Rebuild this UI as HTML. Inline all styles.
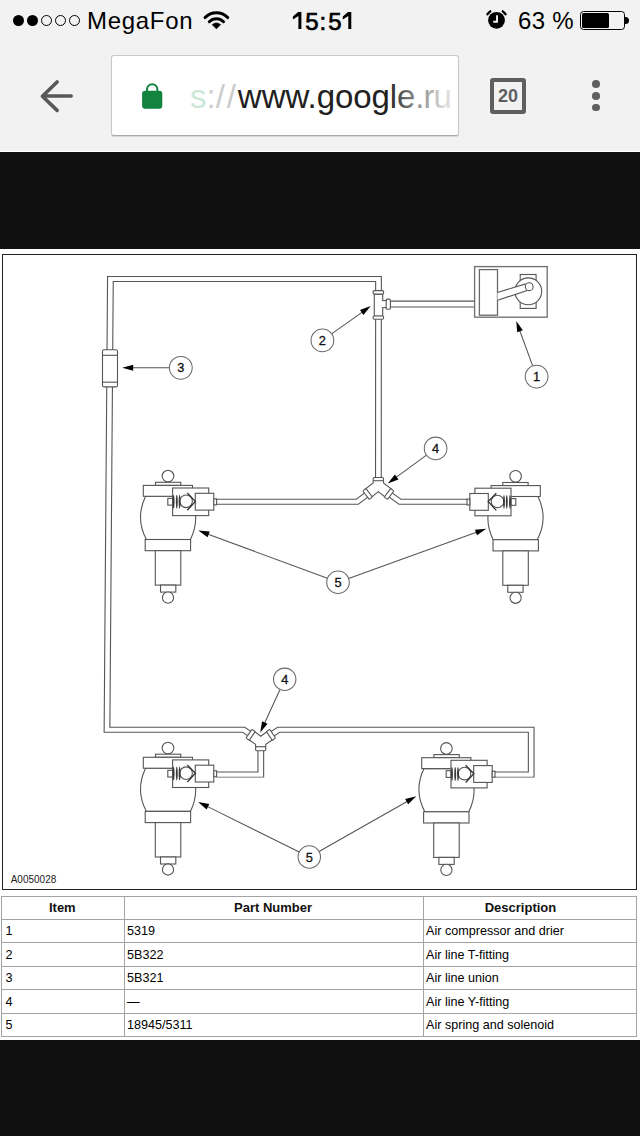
<!DOCTYPE html>
<html><head><meta charset="utf-8">
<style>
html,body{margin:0;padding:0;}
body{width:640px;height:1136px;position:relative;overflow:hidden;background:#f2f2f2;font-family:"Liberation Sans",sans-serif;}
.abs{position:absolute;}
#dark1{left:0;top:152px;width:640px;height:97.4px;background:#101010;}
#white{left:0;top:249.4px;width:640px;height:790.6px;background:#fff;}
#dark2{left:0;top:1040px;width:640px;height:96px;background:#101010;}
#wline{left:0;top:150.5px;width:640px;height:1.5px;background:#fff;}
.st{font-size:24px;color:#000;top:6px;line-height:30px;white-space:nowrap;}
.tm{-webkit-text-stroke:0.7px #000;}
.dot{top:14.7px;width:11.3px;height:11.3px;border-radius:50%;box-sizing:border-box;}
.dot.o{border:1.1px solid #000;}
.mdot{left:592.2px;width:7.6px;height:7.6px;border-radius:50%;background:#5f5f5f;}
#url{left:111.3px;top:55.2px;width:347.4px;height:81px;background:#fff;border:1px solid #c8c8c8;border-bottom-color:#a8a8a8;border-radius:3px;box-sizing:border-box;box-shadow:0 1px 1px rgba(0,0,0,0.12);}
#urltext{left:190px;top:77.5px;font-size:33px;line-height:38px;white-space:nowrap;color:#212121;}
.hl{left:1px;width:635px;height:1px;background:#a3a3a3;}
.vl{top:895.5px;width:1px;height:141px;background:#a3a3a3;}
.th{top:899.8px;width:200px;text-align:center;font-size:13px;font-weight:bold;color:#111;line-height:15px;white-space:nowrap;}
.td{font-size:12.6px;color:#000;line-height:15px;margin-top:0.8px;white-space:nowrap;}
</style></head><body>
<!-- status bar -->
<div class="abs dot" style="left:12.8px;background:#000;"></div>
<div class="abs dot" style="left:26.8px;background:#000;"></div>
<div class="abs dot o" style="left:40.9px;"></div>
<div class="abs dot o" style="left:54.9px;"></div>
<div class="abs dot o" style="left:68.9px;"></div>
<div class="abs st" style="left:87px;letter-spacing:0.7px;">MegaFon</div>
<svg class="abs" style="left:200px;top:5px" width="34" height="28" viewBox="200 5 34 28">
<path d="M205.09 17.49 A16 16 0 0 1 227.71 17.49" stroke="#000" stroke-width="3.1" fill="none" stroke-linecap="round"/>
<path d="M209.33 21.73 A10 10 0 0 1 223.47 21.73" stroke="#000" stroke-width="3.1" fill="none" stroke-linecap="round"/>
<path d="M216.4 28.8 L212.3 24.7 A5.8 5.8 0 0 1 220.5 24.7 Z" fill="#000" stroke="#000" stroke-width="0.8" stroke-linejoin="round"/>
</svg>
<svg class="abs" style="left:285px;top:5px" width="75" height="30" viewBox="285 5 75 30"><path d="M298.1 12 H301.4 V29 H298.4 V16 L292.9 19.6 V16.5 Z M348 12 H351.3 V29 H348.3 V16 L342.8 19.6 V16.5 Z" fill="#000"/></svg><div class="abs st tm" style="left:305.3px;top:6.5px;">5</div><div class="abs st tm" style="left:319.5px;top:6.5px;">:</div><div class="abs st tm" style="left:328.3px;top:6.5px;">5</div>
<svg class="abs" style="left:480px;top:5px" width="32" height="30" viewBox="480 5 32 30">
<circle cx="496.5" cy="20.3" r="8.4" fill="#000"/>
<path d="M497 15.3 V21.8 H493.2" stroke="#f2f2f2" stroke-width="1.9" fill="none"/>
<path d="M487.46 14.2 A10.9 10.9 0 0 1 490.25 11.37" stroke="#000" stroke-width="2.4" fill="none" stroke-linecap="round"/>
<path d="M505.54 14.2 A10.9 10.9 0 0 0 502.75 11.37" stroke="#000" stroke-width="2.4" fill="none" stroke-linecap="round"/>
</svg>
<div class="abs st" style="left:518px;letter-spacing:0.3px;">63 %</div>
<div class="abs" style="left:580.2px;top:11.1px;width:44.7px;height:18.7px;box-sizing:border-box;border:1.4px solid #000;border-radius:3.5px;"></div>
<div class="abs" style="left:582px;top:13px;width:27.2px;height:15px;background:#000;border-radius:1.6px;"></div>
<div class="abs" style="left:624.9px;top:16.7px;width:4.3px;height:7px;background:#000;border-radius:0 3.5px 3.5px 0;"></div>
<!-- toolbar -->
<svg class="abs" style="left:36px;top:76px" width="42" height="40" viewBox="36 76 42 40">
<path d="M71.2 96 H43 M57.1 82 L42.4 96.2 L57.1 110.4" stroke="#585858" stroke-width="3.6" fill="none" stroke-linecap="round" stroke-linejoin="round"/>
</svg>
<div id="url" class="abs"></div>
<svg class="abs" style="left:138px;top:78px" width="28" height="34" viewBox="138 78 28 34">
<path d="M147.05 92 V89.3 A5.15 5.15 0 0 1 157.35 89.3 V92" stroke="#12843f" stroke-width="2" fill="none"/>
<rect x="142.1" y="90.8" width="20.2" height="18" rx="3" fill="#12843f"/>
</svg>
<div id="urltext" class="abs"><span style="color:#cde8d8">s</span><span style="color:#cfcfcf">:</span><span style="color:#cbcbcb;letter-spacing:1.9px">//</span>www.<span style="letter-spacing:-0.1px">google</span><span style="letter-spacing:-0.9px">.ru</span></div>
<div class="abs" style="left:388px;top:60px;width:68px;height:70px;background:linear-gradient(90deg,rgba(255,255,255,0),rgba(255,255,255,0.3) 25%,rgba(255,255,255,0.5) 43%,rgba(255,255,255,0.6) 59%,rgba(255,255,255,0.8) 78%,rgba(255,255,255,0.9));"></div>
<div class="abs" style="left:490px;top:78px;width:36px;height:36px;box-sizing:border-box;border:4px solid #5f5f5f;border-radius:3px;"></div>
<div class="abs" style="left:490px;top:86px;width:36px;text-align:center;font-size:18px;font-weight:bold;color:#5f5f5f;line-height:20px;">20</div>
<div class="abs mdot" style="top:80px;"></div>
<div class="abs mdot" style="top:92px;"></div>
<div class="abs mdot" style="top:103.8px;"></div>
<div id="wline" class="abs"></div>
<div id="dark1" class="abs"></div>
<div id="white" class="abs"></div>
<div id="dark2" class="abs"></div>
<!-- diagram border -->
<div class="abs" style="left:2px;top:254px;width:635px;height:635.5px;box-sizing:border-box;border:1.4px solid #222;"></div>
<div class="abs" style="left:10.7px;top:873.5px;font-size:10px;color:#222;">A0050028</div>
<!--DIAGRAM-->
<svg class="abs" style="left:0;top:0" width="640" height="1136" viewBox="0 0 640 1136" font-family="Liberation Sans, sans-serif">
<g transform="scale(1 0.88)">
<path d="M260.8 842.61 L243.8 829.32 L107 829.32 L110.4 317.16 L378.5 317.16 L378.4 552.27" stroke="#555555" stroke-width="6.8" fill="none" stroke-linejoin="miter"/>
<path d="M378.4 552.27 L357.2 570.17 L216.5 570.17" stroke="#555555" stroke-width="6.8" fill="none" stroke-linejoin="miter"/>
<path d="M378.4 552.27 L400 570.17 L467 570.17" stroke="#555555" stroke-width="6.8" fill="none" stroke-linejoin="miter"/>
<path d="M260.8 842.61 L260.8 880.23 L216.5 880.23" stroke="#555555" stroke-width="6.8" fill="none" stroke-linejoin="miter"/>
<path d="M260.8 842.61 L278.6 829.32 L531.2 829.32 L531.2 880.23 L494.3 880.23" stroke="#555555" stroke-width="6.8" fill="none" stroke-linejoin="miter"/>
<path d="M260.8 842.61 L243.8 829.32 L107 829.32 L110.4 317.16 L378.5 317.16 L378.4 552.27" stroke="#fff" stroke-width="4.6" fill="none" stroke-linejoin="miter"/>
<path d="M378.4 552.27 L357.2 570.17 L216.5 570.17" stroke="#fff" stroke-width="4.6" fill="none" stroke-linejoin="miter"/>
<path d="M378.4 552.27 L400 570.17 L467 570.17" stroke="#fff" stroke-width="4.6" fill="none" stroke-linejoin="miter"/>
<path d="M260.8 842.61 L260.8 880.23 L216.5 880.23" stroke="#fff" stroke-width="4.6" fill="none" stroke-linejoin="miter"/>
<path d="M260.8 842.61 L278.6 829.32 L531.2 829.32 L531.2 880.23 L494.3 880.23" stroke="#fff" stroke-width="4.6" fill="none" stroke-linejoin="miter"/>
</g>
<g transform="scale(1 1)">
<path d="M384 304.05 L474.5 304.05" stroke="#555555" stroke-width="6.95" fill="none" stroke-linejoin="miter"/>
<path d="M384 304.05 L474.5 304.05" stroke="#fff" stroke-width="4.75" fill="none" stroke-linejoin="miter"/>
</g>
<path d="M373.2 480.5 L373.2 483 L364.9 489.3 L371.1 497.5 L378.35 491.6 L385.6 497.5 L391.8 489.3 L383.5 483 L383.5 480.5 Z" fill="#fff" stroke="#555555" stroke-width="1.1" stroke-linejoin="miter"/>
<rect x="373.2" y="477.5" width="10.3" height="3.3" rx="1.2" fill="#fff" stroke="#555555" stroke-width="1.1"/>
<rect x="-2" y="-5.3" width="4" height="10.6" rx="1" fill="#fff" stroke="#555555" stroke-width="1.1" transform="translate(367.6 494) rotate(-37)"/>
<rect x="-2" y="-5.3" width="4" height="10.6" rx="1" fill="#fff" stroke="#555555" stroke-width="1.1" transform="translate(389.1 494) rotate(37)"/>
<path d="M255.6 746.8 L255.6 744.4 L248.2 739.3 L253.8 731 L260.8 736.2 L267.8 731 L273.4 739.3 L265.8 744.4 L265.8 746.8 Z" fill="#fff" stroke="#555555" stroke-width="1.1" stroke-linejoin="miter"/>
<rect x="255.6" y="746.8" width="10.2" height="3.9" rx="1.2" fill="#fff" stroke="#555555" stroke-width="1.1"/>
<rect x="-2" y="-5.3" width="4" height="10.6" rx="1" fill="#fff" stroke="#555555" stroke-width="1.1" transform="translate(250.6 734.8) rotate(34)"/>
<rect x="-2" y="-5.3" width="4" height="10.6" rx="1" fill="#fff" stroke="#555555" stroke-width="1.1" transform="translate(271 734.8) rotate(-34)"/>
<rect x="374.3" y="294.1" width="8.4" height="22.1" rx="0" fill="#fff" stroke="#555555" stroke-width="1.1"/>
<rect x="382" y="301.1" width="4.4" height="5.9" fill="#fff"/>
<path d="M382.7 300.5 L386.4 300.5" stroke="#555555" stroke-width="1.1" fill="none"/>
<path d="M382.7 307.6 L386.4 307.6" stroke="#555555" stroke-width="1.1" fill="none"/>
<rect x="373.1" y="290.6" width="10.5" height="3.5" rx="1.2" fill="#fff" stroke="#555555" stroke-width="1.1"/>
<rect x="373.1" y="316" width="10.5" height="3.2" rx="1.2" fill="#fff" stroke="#555555" stroke-width="1.1"/>
<rect x="386.2" y="299.1" width="4.2" height="10.1" rx="1.3" fill="#fff" stroke="#555555" stroke-width="1.1"/>
<rect x="102.5" y="349.7" width="15" height="37.2" rx="1.5" fill="#fff" stroke="#555555" stroke-width="1.1"/>
<path d="M102.5 355.3 L117.5 355.3" stroke="#555555" stroke-width="1.1" fill="none"/>
<path d="M102.5 382.2 L117.5 382.2" stroke="#555555" stroke-width="1.1" fill="none"/>
<rect x="474.6" y="266.6" width="72.6" height="50.6" rx="0" fill="#fff" stroke="#707070" stroke-width="1.35"/>
<rect x="479.4" y="269.6" width="18.1" height="45.6" rx="0" fill="#fff" stroke="#6a6a6a" stroke-width="1.3"/>
<rect x="520.2" y="274.5" width="15.9" height="6.5" rx="0" fill="#fff" stroke="#555555" stroke-width="1.1"/>
<rect x="520.2" y="302" width="15.9" height="6.4" rx="0" fill="#fff" stroke="#555555" stroke-width="1.1"/>
<circle cx="528.3" cy="291.3" r="13.4" fill="#fff" stroke="#555555" stroke-width="1.1"/>
<path d="M497.5 292.5 L525.6 283.9 L528 290.2 L497.5 300.3 Z" stroke="none" fill="#fff"/>
<path d="M497.5 292.5 L525.6 283.9 M497.5 300.3 L528 290.2" stroke="#555555" stroke-width="1.1" fill="none"/>
<circle cx="529.2" cy="286.7" r="3.9" fill="#fff" stroke="#555555" stroke-width="1.1"/>
<path d="M145.6 496.3 Q135 518.1 146.4 539.5 L190.4 539.5 Q201 518.1 190.4 496.3 Z" fill="#fff" stroke="#555555" stroke-width="1.1"/>
<rect x="145.2" y="539.5" width="45.4" height="11.2" rx="0" fill="#fff" stroke="#555555" stroke-width="1.1"/>
<rect x="155.3" y="550.7" width="25.5" height="34.4" rx="0" fill="#fff" stroke="#555555" stroke-width="1.1"/>
<rect x="160.5" y="585.1" width="15.3" height="7" rx="0" fill="#fff" stroke="#555555" stroke-width="1.1"/>
<circle cx="168" cy="597.6" r="5.6" fill="#fff" stroke="#555555" stroke-width="1.1"/>
<circle cx="168" cy="476.1" r="5.8" fill="#fff" stroke="#555555" stroke-width="1.1"/>
<rect x="155.5" y="482.3" width="25.3" height="3.1" rx="0" fill="#fff" stroke="#555555" stroke-width="1.1"/>
<rect x="143.3" y="485.4" width="49.2" height="10.9" rx="0" fill="#fff" stroke="#555555" stroke-width="1.1"/>
<rect x="167.8" y="498.4" width="4.8" height="6.7" rx="0" fill="#fff" stroke="#555555" stroke-width="1.1"/>
<rect x="172.6" y="488" width="36.1" height="27.6" rx="0" fill="#fff" stroke="#555555" stroke-width="1.1"/>
<rect x="195.3" y="493.3" width="18.5" height="16.8" rx="0" fill="#fff" stroke="#555555" stroke-width="1.1"/>
<rect x="213.8" y="498.9" width="2.8" height="5.9" rx="0" fill="#fff" stroke="#555555" stroke-width="1.1"/>
<circle cx="186.1" cy="501.3" r="6.3" fill="none" stroke="#555555" stroke-width="1.1"/>
<path d="M187.3 493 L195.4 501.4 L187.3 510.2" stroke="#333" stroke-width="1.3" fill="none"/>
<ellipse cx="173.6" cy="501.7" rx="0.95" ry="7" fill="#3a3a3a"/>
<ellipse cx="176.8" cy="501.7" rx="0.95" ry="7" fill="#3a3a3a"/>
<ellipse cx="179.6" cy="501.7" rx="0.95" ry="7" fill="#3a3a3a"/>
<path d="M538 496.5 Q548.6 518.3 537.2 539.7 L493.2 539.7 Q482.6 518.3 493.2 496.5 Z" fill="#fff" stroke="#555555" stroke-width="1.1"/>
<rect x="493" y="539.7" width="45.4" height="11.2" rx="0" fill="#fff" stroke="#555555" stroke-width="1.1"/>
<rect x="502.8" y="550.9" width="25.5" height="34.4" rx="0" fill="#fff" stroke="#555555" stroke-width="1.1"/>
<rect x="507.8" y="585.3" width="15.3" height="7" rx="0" fill="#fff" stroke="#555555" stroke-width="1.1"/>
<circle cx="515.6" cy="597.8" r="5.6" fill="#fff" stroke="#555555" stroke-width="1.1"/>
<circle cx="515.6" cy="476.3" r="5.8" fill="#fff" stroke="#555555" stroke-width="1.1"/>
<rect x="502.8" y="482.5" width="25.3" height="3.1" rx="0" fill="#fff" stroke="#555555" stroke-width="1.1"/>
<rect x="491.1" y="485.6" width="49.2" height="10.9" rx="0" fill="#fff" stroke="#555555" stroke-width="1.1"/>
<rect x="511" y="498.6" width="4.8" height="6.7" rx="0" fill="#fff" stroke="#555555" stroke-width="1.1"/>
<rect x="474.9" y="488.2" width="36.1" height="27.6" rx="0" fill="#fff" stroke="#555555" stroke-width="1.1"/>
<rect x="469.8" y="493.5" width="18.5" height="16.8" rx="0" fill="#fff" stroke="#555555" stroke-width="1.1"/>
<rect x="467" y="499.1" width="2.8" height="5.9" rx="0" fill="#fff" stroke="#555555" stroke-width="1.1"/>
<circle cx="497.5" cy="501.5" r="6.3" fill="none" stroke="#555555" stroke-width="1.1"/>
<path d="M496.3 493.2 L488.2 501.6 L496.3 510.4" stroke="#333" stroke-width="1.3" fill="none"/>
<ellipse cx="510" cy="501.9" rx="0.95" ry="7" fill="#3a3a3a"/>
<ellipse cx="506.8" cy="501.9" rx="0.95" ry="7" fill="#3a3a3a"/>
<ellipse cx="504" cy="501.9" rx="0.95" ry="7" fill="#3a3a3a"/>
<path d="M145.6 768.2 Q135 790 146.4 811.4 L190.4 811.4 Q201 790 190.4 768.2 Z" fill="#fff" stroke="#555555" stroke-width="1.1"/>
<rect x="145.2" y="811.4" width="45.4" height="11.2" rx="0" fill="#fff" stroke="#555555" stroke-width="1.1"/>
<rect x="155.3" y="822.6" width="25.5" height="34.4" rx="0" fill="#fff" stroke="#555555" stroke-width="1.1"/>
<rect x="160.5" y="857" width="15.3" height="7" rx="0" fill="#fff" stroke="#555555" stroke-width="1.1"/>
<circle cx="168" cy="869.5" r="5.6" fill="#fff" stroke="#555555" stroke-width="1.1"/>
<circle cx="168" cy="748" r="5.8" fill="#fff" stroke="#555555" stroke-width="1.1"/>
<rect x="155.5" y="754.2" width="25.3" height="3.1" rx="0" fill="#fff" stroke="#555555" stroke-width="1.1"/>
<rect x="143.3" y="757.3" width="49.2" height="10.9" rx="0" fill="#fff" stroke="#555555" stroke-width="1.1"/>
<rect x="167.8" y="770.3" width="4.8" height="6.7" rx="0" fill="#fff" stroke="#555555" stroke-width="1.1"/>
<rect x="172.6" y="759.9" width="36.1" height="27.6" rx="0" fill="#fff" stroke="#555555" stroke-width="1.1"/>
<rect x="195.3" y="765.2" width="18.5" height="16.8" rx="0" fill="#fff" stroke="#555555" stroke-width="1.1"/>
<rect x="213.8" y="770.8" width="2.8" height="5.9" rx="0" fill="#fff" stroke="#555555" stroke-width="1.1"/>
<circle cx="186.1" cy="773.2" r="6.3" fill="none" stroke="#555555" stroke-width="1.1"/>
<path d="M187.3 764.9 L195.4 773.3 L187.3 782.1" stroke="#333" stroke-width="1.3" fill="none"/>
<ellipse cx="173.6" cy="773.6" rx="0.95" ry="7" fill="#3a3a3a"/>
<ellipse cx="176.8" cy="773.6" rx="0.95" ry="7" fill="#3a3a3a"/>
<ellipse cx="179.6" cy="773.6" rx="0.95" ry="7" fill="#3a3a3a"/>
<path d="M424 768.6 Q413.4 790.4 424.8 811.8 L468.8 811.8 Q479.4 790.4 468.8 768.6 Z" fill="#fff" stroke="#555555" stroke-width="1.1"/>
<rect x="423.6" y="811.8" width="45.4" height="11.2" rx="0" fill="#fff" stroke="#555555" stroke-width="1.1"/>
<rect x="433.7" y="823" width="25.5" height="34.4" rx="0" fill="#fff" stroke="#555555" stroke-width="1.1"/>
<rect x="438.9" y="857.4" width="15.3" height="7" rx="0" fill="#fff" stroke="#555555" stroke-width="1.1"/>
<circle cx="446.4" cy="869.9" r="5.6" fill="#fff" stroke="#555555" stroke-width="1.1"/>
<circle cx="446.4" cy="748.4" r="5.8" fill="#fff" stroke="#555555" stroke-width="1.1"/>
<rect x="433.9" y="754.6" width="25.3" height="3.1" rx="0" fill="#fff" stroke="#555555" stroke-width="1.1"/>
<rect x="421.7" y="757.7" width="49.2" height="10.9" rx="0" fill="#fff" stroke="#555555" stroke-width="1.1"/>
<rect x="446.2" y="770.7" width="4.8" height="6.7" rx="0" fill="#fff" stroke="#555555" stroke-width="1.1"/>
<rect x="451" y="760.3" width="36.1" height="27.6" rx="0" fill="#fff" stroke="#555555" stroke-width="1.1"/>
<rect x="473.7" y="765.6" width="18.5" height="16.8" rx="0" fill="#fff" stroke="#555555" stroke-width="1.1"/>
<rect x="492.2" y="771.2" width="2.8" height="5.9" rx="0" fill="#fff" stroke="#555555" stroke-width="1.1"/>
<circle cx="464.5" cy="773.6" r="6.3" fill="none" stroke="#555555" stroke-width="1.1"/>
<path d="M465.7 765.3 L473.8 773.7 L465.7 782.5" stroke="#333" stroke-width="1.3" fill="none"/>
<ellipse cx="452" cy="774" rx="0.95" ry="7" fill="#3a3a3a"/>
<ellipse cx="455.2" cy="774" rx="0.95" ry="7" fill="#3a3a3a"/>
<ellipse cx="458" cy="774" rx="0.95" ry="7" fill="#3a3a3a"/>
<path d="M532.68 365.89 L519.34 329.45" stroke="#555" stroke-width="1.05" fill="none"/>
<path d="M516.25 321 L522.85 330.3 L517.21 332.36 Z" fill="#000"/>
<circle cx="536.6" cy="376.6" r="11.4" fill="#fff" stroke="#6a6a6a" stroke-width="1.05"/>
<text x="536.6" y="381.2" text-anchor="middle" font-size="12.8" fill="#111" stroke="#111" stroke-width="0.3">1</text>
<path d="M331.65 333.83 L363.36 311.31" stroke="#555" stroke-width="1.05" fill="none"/>
<path d="M370.7 306.1 L363.47 314.91 L359.99 310.02 Z" fill="#000"/>
<circle cx="322.4" cy="340.4" r="11.35" fill="#fff" stroke="#6a6a6a" stroke-width="1.05"/>
<text x="322.4" y="345" text-anchor="middle" font-size="12.8" fill="#111" stroke="#111" stroke-width="0.3">2</text>
<path d="M169.4 367.8 L131.2 367.8" stroke="#555" stroke-width="1.05" fill="none"/>
<path d="M122.2 367.8 L133.2 364.8 L133.2 370.8 Z" fill="#000"/>
<circle cx="180.8" cy="367.8" r="11.4" fill="#fff" stroke="#6a6a6a" stroke-width="1.05"/>
<text x="180.8" y="372.4" text-anchor="middle" font-size="12.8" fill="#111" stroke="#111" stroke-width="0.3">3</text>
<path d="M426.49 455.09 L395.05 478.17" stroke="#555" stroke-width="1.05" fill="none"/>
<path d="M387.8 483.5 L394.89 474.57 L398.44 479.41 Z" fill="#000"/>
<circle cx="435.6" cy="448.4" r="11.3" fill="#fff" stroke="#6a6a6a" stroke-width="1.05"/>
<text x="435.6" y="453" text-anchor="middle" font-size="12.8" fill="#111" stroke="#111" stroke-width="0.3">4</text>
<path d="M280.02 689.48 L263.96 724.42" stroke="#555" stroke-width="1.05" fill="none"/>
<path d="M260.2 732.6 L262.07 721.35 L267.52 723.86 Z" fill="#000"/>
<circle cx="284.7" cy="679.3" r="11.2" fill="#fff" stroke="#6a6a6a" stroke-width="1.05"/>
<text x="284.7" y="683.9" text-anchor="middle" font-size="12.8" fill="#111" stroke="#111" stroke-width="0.3">4</text>
<path d="M327.4 578.33 L206.74 533.72" stroke="#555" stroke-width="1.05" fill="none"/>
<path d="M198.3 530.6 L209.66 531.6 L207.58 537.23 Z" fill="#000"/>
<path d="M348.63 578.42 L477.83 531.8" stroke="#555" stroke-width="1.05" fill="none"/>
<path d="M486.3 528.75 L476.97 535.3 L474.93 529.66 Z" fill="#000"/>
<circle cx="338" cy="582.25" r="11.3" fill="#fff" stroke="#6a6a6a" stroke-width="1.05"/>
<text x="338" y="586.85" text-anchor="middle" font-size="12.8" fill="#111" stroke="#111" stroke-width="0.3">5</text>
<path d="M299.26 852.03 L206.16 805.9" stroke="#555" stroke-width="1.05" fill="none"/>
<path d="M198.1 801.9 L209.29 804.1 L206.62 809.47 Z" fill="#000"/>
<path d="M319.04 851.47 L408.42 800.7" stroke="#555" stroke-width="1.05" fill="none"/>
<path d="M416.25 796.25 L408.17 804.29 L405.2 799.07 Z" fill="#000"/>
<circle cx="309.3" cy="857" r="11.2" fill="#fff" stroke="#6a6a6a" stroke-width="1.05"/>
<text x="309.3" y="861.6" text-anchor="middle" font-size="12.8" fill="#111" stroke="#111" stroke-width="0.3">5</text>
</svg>
<!--/DIAGRAM-->
<div class="abs hl" style="top:895.5px;"></div>
<div class="abs hl" style="top:918.9px;"></div>
<div class="abs hl" style="top:942.3px;"></div>
<div class="abs hl" style="top:965.9px;"></div>
<div class="abs hl" style="top:989.4px;"></div>
<div class="abs hl" style="top:1013.0px;"></div>
<div class="abs hl" style="top:1036.0px;"></div>
<div class="abs vl" style="left:0.7px;"></div>
<div class="abs vl" style="left:123.5px;"></div>
<div class="abs vl" style="left:422.7px;"></div>
<div class="abs vl" style="left:635.7px;"></div>
<div class="abs th" style="left:-37.7px;">Item</div>
<div class="abs th" style="left:173.0px;">Part Number</div>
<div class="abs th" style="left:420.5px;">Description</div>
<div class="abs td" style="left:5.5px;top:923.6px;">1</div>
<div class="abs td" style="left:127px;top:923.6px;">5319</div>
<div class="abs td" style="left:426px;top:923.6px;">Air compressor and drier</div>
<div class="abs td" style="left:5.5px;top:947.0px;">2</div>
<div class="abs td" style="left:127px;top:947.0px;">5B322</div>
<div class="abs td" style="left:426px;top:947.0px;">Air line T-fitting</div>
<div class="abs td" style="left:5.5px;top:970.6px;">3</div>
<div class="abs td" style="left:127px;top:970.6px;">5B321</div>
<div class="abs td" style="left:426px;top:970.6px;">Air line union</div>
<div class="abs td" style="left:5.5px;top:994.1px;">4</div>
<div class="abs td" style="left:127px;top:994.1px;">&#8212;</div>
<div class="abs td" style="left:426px;top:994.1px;">Air line Y-fitting</div>
<div class="abs td" style="left:5.5px;top:1017.7px;">5</div>
<div class="abs td" style="left:127px;top:1017.7px;">18945/5311</div>
<div class="abs td" style="left:426px;top:1017.7px;">Air spring and solenoid</div>
</body></html>
